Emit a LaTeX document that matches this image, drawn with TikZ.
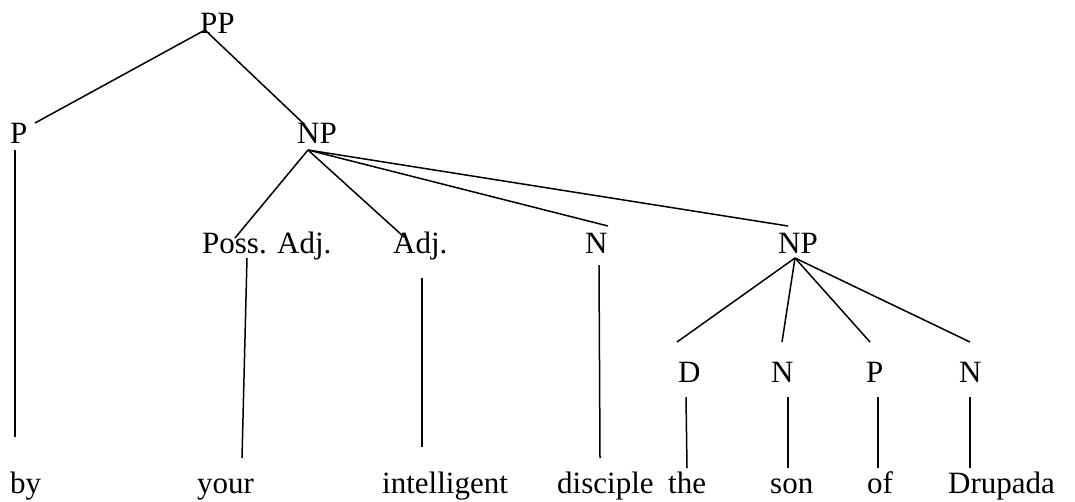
\documentclass[tikz,border=0pt]{standalone}
\usepackage{fontspec}
\setmainfont{Liberation Serif}
\begin{document}
\begin{tikzpicture}[x=1pt,y=-1pt,
  lab/.style={anchor=base west,inner sep=0pt,font=\fontsize{31}{36}\selectfont},
  edge/.style={line width=1.5pt,line cap=butt}]
\useasboundingbox (0,0) rectangle (1075,501);
% labels
\node[lab] (PP) at (200,33) {PP};
\node[lab] (P1) at (10,143) {P};
\node[lab] (NP1) at (297,143) {NP};
\node[lab] (PA) at (202,253) {Poss. Adj.};
\node[lab] (ADJ) at (393,253) {Adj.};
\node[lab] (N1) at (585,253) {N};
\node[lab] (NP2) at (778,253) {NP};
\node[lab] (D) at (678,382) {D};
\node[lab] (N2) at (771,382) {N};
\node[lab] (P2) at (866,382) {P};
\node[lab] (N3) at (959,382) {N};
\node[lab] (by) at (10,493) {by};
\node[lab] (your) at (197,493) {your};
\node[lab] (intel) at (382,493) {intelligent};
\node[lab] (disc) at (557,493) {disciple};
\node[lab] (the) at (668,493) {the};
\node[lab] (son) at (770,493) {son};
\node[lab] (of) at (867,493) {of};
\node[lab] (drup) at (948,493) {Drupada};
% connector end points
\coordinate (PPb) at (205,30);
\coordinate (P1t) at (35,123);
\coordinate (NP1t) at (304,124);
\coordinate (NP1b) at (308,150);
\coordinate (PAt) at (235,238);
\coordinate (ADJt) at (404,237);
\coordinate (N1t) at (608,226);
\coordinate (NP2t) at (788,226);
\coordinate (P1b) at (15,150);
\coordinate (byt) at (15,437);
\coordinate (PAb) at (247,258);
\coordinate (yourt) at (242,458);
\coordinate (ADJb) at (422,278);
\coordinate (intelt) at (422,447);
\coordinate (N1b) at (599,265);
\coordinate (disct) at (600,458);
\coordinate (NP2b) at (795,258);
\coordinate (Dt) at (677,342);
\coordinate (N2t) at (782,342);
\coordinate (P2t) at (870,342);
\coordinate (N3t) at (970,342);
\coordinate (Db) at (686,397);
\coordinate (thet) at (687,468);
\coordinate (N2b) at (788,397);
\coordinate (sont) at (788,468);
\coordinate (P2b) at (878,397);
\coordinate (oft) at (878,468);
\coordinate (N3b) at (970,397);
\coordinate (drupt) at (970,468);
% connectors
\draw[edge] (PPb) -- (P1t);
\draw[edge] (PPb) -- (NP1t);
\draw[edge] (NP1b) -- (PAt);
\draw[edge] (NP1b) -- (ADJt);
\draw[edge] (NP1b) -- (N1t);
\draw[edge] (NP1b) -- (NP2t);
\draw[edge] (P1b) -- (byt);
\draw[edge] (PAb) -- (yourt);
\draw[edge] (ADJb) -- (intelt);
\draw[edge] (N1b) -- (disct);
\draw[edge] (NP2b) -- (Dt);
\draw[edge] (NP2b) -- (N2t);
\draw[edge] (NP2b) -- (P2t);
\draw[edge] (NP2b) -- (N3t);
\draw[edge] (Db) -- (thet);
\draw[edge] (N2b) -- (sont);
\draw[edge] (P2b) -- (oft);
\draw[edge] (N3b) -- (drupt);
\end{tikzpicture}
\end{document}
